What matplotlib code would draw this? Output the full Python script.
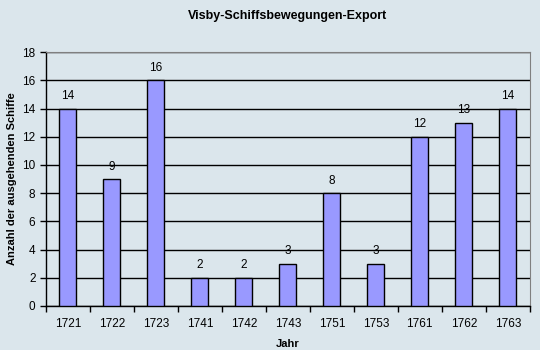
import matplotlib
matplotlib.use("Agg")
import matplotlib.pyplot as plt
import numpy as np

plt.rcParams['font.family'] = ['Liberation Sans', 'DejaVu Sans']

# data
jahre = ['1721', '1722', '1723', '1741', '1742', '1743', '1751', '1753', '1761', '1762', '1763']
schiffe = [14, 9, 16, 2, 2, 3, 8, 3, 12, 13, 14]

bg = '#dbe6ec'
fig = plt.figure(figsize=(5.4, 3.5), dpi=100, facecolor=bg)
ax = fig.add_axes([0.085, 0.126, 0.896, 0.725], facecolor=bg)

x = np.arange(len(jahre))
bars = ax.bar(x, schiffe, width=0.39, color='#9999ff', edgecolor='black', linewidth=1, zorder=3)
for xi, v in zip(x, schiffe):
    ax.text(xi, v + 0.45, str(v), ha='center', va='bottom', fontsize=8.5, zorder=4)

ax.set_xlim(-0.5, len(jahre) - 0.5)
ax.set_ylim(0, 18)
ax.set_yticks(range(0, 19, 2))
ax.yaxis.grid(True, color='black', linewidth=1, zorder=1)
ax.set_xticks(x)
ax.set_xticklabels(jahre, fontsize=8.5)
ax.set_xticks(np.arange(-0.5, len(jahre)), minor=True)
ax.tick_params(axis='x', which='major', length=0, pad=9)
ax.tick_params(axis='x', which='minor', length=4, width=1, direction='out')
ax.tick_params(axis='y', labelsize=8.5, length=4, width=1, direction='out')

for s in ['top', 'right']:
    ax.spines[s].set_color('#808080')
for s in ['left', 'bottom']:
    ax.spines[s].set_color('black')
    ax.spines[s].set_linewidth(1)

ax.set_title('Visby-Schiffsbewegungen-Export', fontsize=9, fontweight='bold', pad=24)
ax.set_xlabel('Jahr', fontsize=8, fontweight='bold', labelpad=6)
ax.set_ylabel('Anzahl der ausgehenden Schiffe', fontsize=8, fontweight='bold', labelpad=4)

fig.savefig('out.png', dpi=100, facecolor=bg)
